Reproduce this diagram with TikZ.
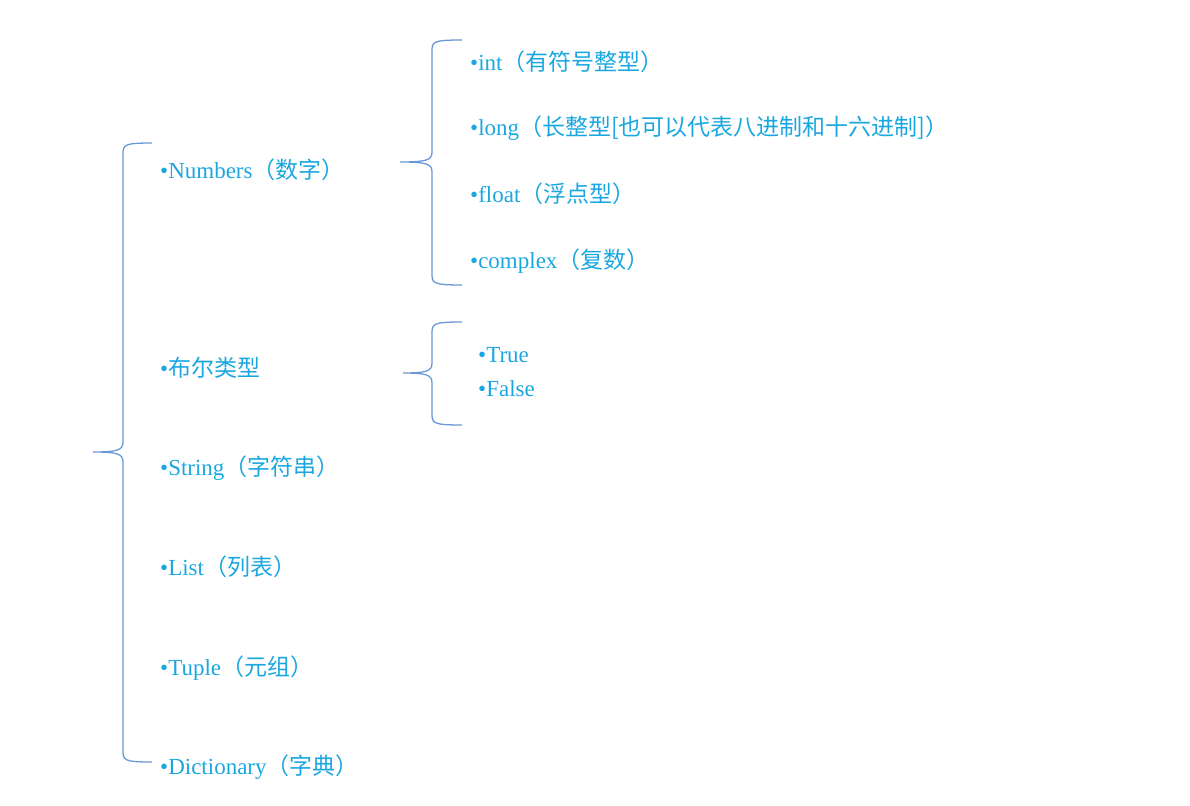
\documentclass[tikz,border=0pt]{standalone}
\usepackage{fontspec}
\setmainfont{Liberation Serif}
\newfontfamily\cjk{Noto Sans CJK SC}
\definecolor{txt}{HTML}{1AA7E0}
\definecolor{brc}{HTML}{6A97D6}
\newcommand{\mybrace}[6]{% xend, xv, xcusp, ytop, ycusp, ybot
  \draw[brc,line width=1.3pt] (#1,#4) .. controls (#2,#4) and (#2,#4+2) .. (#2,#4+12)
   -- (#2,#5-10) .. controls (#2,#5-2) and (#2-5,#5) .. (#3,#5)
   .. controls (#2-5,#5) and (#2,#5+2) .. (#2,#5+10)
   -- (#2,#6-12) .. controls (#2,#6-2) and (#2,#6) .. (#1,#6);}
\begin{document}
\begin{tikzpicture}[x=1pt,y=-1pt,
  lab/.style={anchor=west,inner sep=0pt,text=txt,font=\fontsize{23}{26}\selectfont}]
\useasboundingbox (0,0) rectangle (1190,805);
\mybrace{152}{123}{93}{143}{452}{762}
\mybrace{462}{432}{400}{40}{162}{285}
\mybrace{462}{432}{403}{322}{373}{425}
\node[lab] (num) at (160,170) {•Numbers\cjk{（数字）}};
\node[lab] (bool) at (160,368) {•\cjk{布尔类型}};
\node[lab] (str) at (160,468) {•String\cjk{（字符串）}};
\node[lab] (lst) at (160,567) {•List\cjk{（列表）}};
\node[lab] (tup) at (160,668) {•Tuple\cjk{（元组）}};
\node[lab] (dic) at (160,767) {•Dictionary\cjk{（字典）}};
\node[lab] (int) at (470,62) {•int\cjk{（有符号整型）}};
\node[lab] (lng) at (470,128) {•long\cjk{（长整型}[\cjk{也可以代表八进制和十六进制}]\cjk{）}};
\node[lab] (flt) at (470,194) {•float\cjk{（浮点型）}};
\node[lab] (cpx) at (470,261) {•complex\cjk{（复数）}};
\node[lab] (tru) at (478,355) {•True};
\node[lab] (fls) at (478,389) {•False};
\end{tikzpicture}
\end{document}
